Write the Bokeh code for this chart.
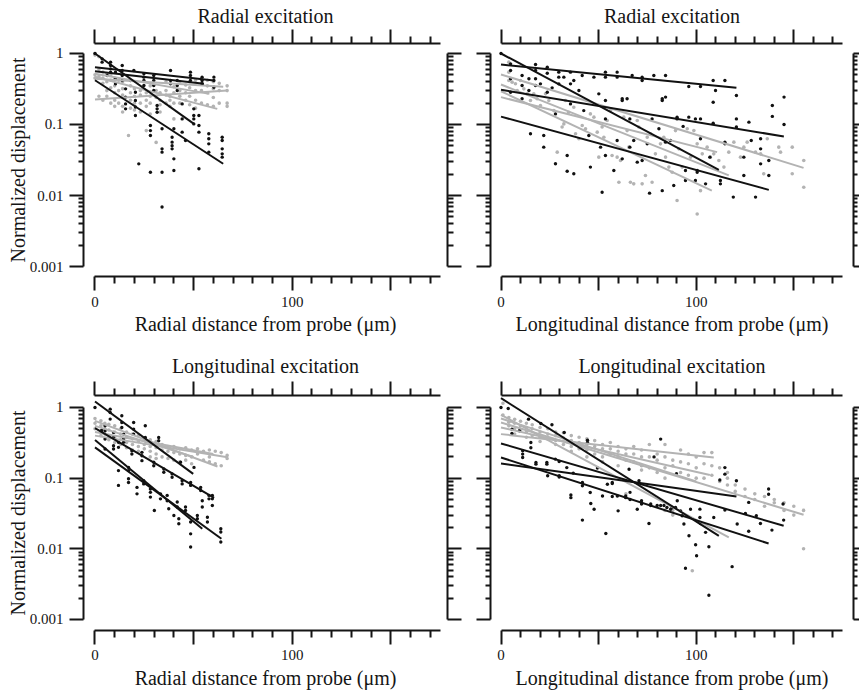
from bokeh.plotting import figure
from bokeh.models import LinearAxis, LogAxis, FixedTicker, Range1d, ColumnDataSource
from bokeh.layouts import column, row
from bokeh.embed import file_html
from bokeh.resources import INLINE

# ---------------- data ----------------
X_MAJOR = [0, 50, 100, 150]
X_MINOR = [10, 20, 30, 40, 60, 70, 80, 90, 110, 120, 130, 140, 160, 170]
X_LABELS = {0: "0", 50: "", 100: "100", 150: ""}
Y_MAJOR = [0.001, 0.01, 0.1, 1]
Y_MINOR = [0.002, 0.003, 0.004, 0.005, 0.006, 0.007, 0.008, 0.009,
           0.02, 0.03, 0.04, 0.05, 0.06, 0.07, 0.08, 0.09,
           0.2, 0.3, 0.4, 0.5, 0.6, 0.7, 0.8, 0.9]
Y_LABELS = {0.001: "0.001", 0.01: "0.01", 0.1: "0.1", 1: "1"}

TITLES = ["Radial excitation", "Radial excitation",
          "Longitudinal excitation", "Longitudinal excitation"]
XLABELS = ["Radial distance from probe (\u03bcm)", "Longitudinal distance from probe (\u03bcm)",
           "Radial distance from probe (\u03bcm)", "Longitudinal distance from probe (\u03bcm)"]
YLABEL = "Normalized displacement"

# top-left: radial excitation, radial distance
TL_BLACK = [(0, 1.0), (3.6, 0.755), (3.6, 0.84), (6.2, 0.49),
            (7.9, 0.755), (7.9, 0.677), (7.9, 0.608), (7.9, 0.546),
            (10.4, 0.546), (10.4, 0.44), (10.4, 0.374),
            (13.8, 0.677), (13.8, 0.576), (13.8, 0.49), (13.8, 0.417),
            (15.5, 0.318), (15.5, 0.243), (15.5, 0.195), (15.5, 0.166),
            (18, 0.417), (19.7, 0.576),
            (20.5, 0.285), (20.5, 0.218), (20.5, 0.176), (20.5, 0.134), (22.2, 0.0279),
            (24.8, 0.518), (24.8, 0.464), (24.8, 0.417), (24.8, 0.354),
            (28.1, 0.097), (28.1, 0.082), (28.1, 0.07), (28.1, 0.0213),
            (29.8, 0.49), (29.8, 0.417), (29.8, 0.354), (29.8, 0.301),
            (31.5, 0.185), (31.5, 0.166), (31.5, 0.149),
            (34, 0.087), (34, 0.0454), (34, 0.0408), (34, 0.0213), (34, 0.0069),
            (38.3, 0.576), (38.3, 0.417), (38.3, 0.374),
            (39.1, 0.066), (39.1, 0.0564), (39.1, 0.0504), (39.1, 0.0454),
            (40, 0.087), (40, 0.0328), (40, 0.0225),
            (41.7, 0.417), (41.7, 0.354), (41.7, 0.301),
            (44.2, 0.195), (44.2, 0.12), (44.2, 0.078), (45.9, 0.0596),
            (48.4, 0.546), (48.4, 0.49), (48.4, 0.417),
            (50.1, 0.166), (50.1, 0.134), (50.1, 0.12), (50.1, 0.102),
            (52.7, 0.134), (52.7, 0.097), (52.7, 0.078), (52.7, 0.0238),
            (54.3, 0.464), (54.3, 0.417), (54.3, 0.374),
            (57.7, 0.074), (57.7, 0.063), (57.7, 0.0534), (57.7, 0.0408),
            (60.3, 0.464), (60.3, 0.417), (60.3, 0.335),
            (64.5, 0.066), (64.5, 0.0596), (64.5, 0.0454), (64.5, 0.0386), (64.5, 0.0347)]
TL_GRAY = [(0, 1.0), (0, 0.95), (0, 0.5), (0, 0.45),
           (2, 0.9), (2, 0.6), (2, 0.48), (2, 0.25),
           (4, 0.55), (4, 0.45), (4, 0.38), (4, 0.22),
           (6, 0.52), (6, 0.4), (6, 0.3), (6, 0.25),
           (8, 0.5), (8, 0.42), (8, 0.33), (8, 0.2),
           (10, 0.45), (10, 0.35), (10, 0.28), (10, 0.22), (10, 0.18),
           (12, 0.42), (12, 0.3), (12, 0.2),
           (14, 0.4), (14, 0.32), (14, 0.26), (14, 0.18), (14, 0.15),
           (17, 0.07), (18, 0.35), (18, 0.28), (18, 0.22), (18, 0.17),
           (20, 0.32), (20, 0.25), (20, 0.2), (20, 0.16),
           (23, 0.3), (23, 0.26), (23, 0.2), (23, 0.15),
           (26, 0.082), (26, 0.28), (26, 0.22), (26, 0.18),
           (28, 0.35), (28, 0.25), (28, 0.2), (28, 0.14),
           (31, 0.056), (31, 0.3), (31, 0.24),
           (33, 0.28), (33, 0.22), (33, 0.19), (33, 0.15),
           (36, 0.4), (36, 0.3), (36, 0.26), (36, 0.2),
           (38, 0.25), (38, 0.22), (38, 0.18),
           (40, 0.34), (40, 0.28), (40, 0.2), (40, 0.12),
           (43, 0.4), (43, 0.3), (43, 0.25), (43, 0.2),
           (46, 0.36), (46, 0.28), (46, 0.22),
           (48, 0.4), (48, 0.33), (48, 0.25), (48, 0.19),
           (51, 0.42), (51, 0.3), (51, 0.22), (51, 0.17),
           (54, 0.38), (54, 0.3), (54, 0.2),
           (57, 0.42), (57, 0.35), (57, 0.28), (57, 0.19),
           (60, 0.4), (60, 0.32), (60, 0.24), (60, 0.18),
           (63, 0.38), (63, 0.3), (63, 0.2),
           (67, 0.35), (67, 0.3), (67, 0.2), (67, 0.18)]
TL_BLACK_FITS = [(0, 1.0, 50, 0.103), (0, 0.42, 65, 0.028),
                 (0, 0.642, 60.3, 0.417), (0, 0.563, 55.2, 0.374)]
TL_GRAY_FITS = [(0, 0.47, 62, 0.166), (0, 0.225, 67, 0.30),
                (0, 0.52, 58, 0.27), (0, 0.44, 65, 0.34)]

# top-right: radial excitation, longitudinal distance
TR_BLACK = [(0, 1.0), (4.9, 0.715), (4.9, 0.576), (4.9, 0.44), (4.9, 0.285),
            (10.8, 0.49), (10.8, 0.354), (10.8, 0.23), (14.3, 0.44), (14.3, 0.301),
            (15.1, 0.074), (17.7, 0.7), (17.7, 0.576), (17.7, 0.44), (17.7, 0.354),
            (20.2, 0.374), (21.9, 0.07), (21.9, 0.048),
            (23.7, 0.642), (23.7, 0.528), (23.7, 0.285), (26.2, 0.328),
            (27.9, 0.141), (27.9, 0.028), (29.6, 0.546), (29.6, 0.464), (29.6, 0.374),
            (32.2, 0.464), (33.9, 0.0366), (33.9, 0.022),
            (35.6, 0.546), (35.6, 0.374), (35.6, 0.195), (37.3, 0.417), (37.3, 0.0202),
            (39.9, 0.301), (42.4, 0.157), (41.6, 0.49), (45, 0.07), (45.8, 0.0251),
            (47.6, 0.464), (50.1, 0.27), (51, 0.048), (51.8, 0.0111),
            (53.5, 0.546), (53.5, 0.464), (53.5, 0.218), (53.5, 0.12), (53.5, 0.0366),
            (57.8, 0.0225), (59.5, 0.546), (59.5, 0.464), (59.5, 0.0596),
            (62.1, 0.23), (62.1, 0.218), (62.1, 0.0328), (64.6, 0.23),
            (66, 0.12), (66, 0.048), (67.2, 0.49), (68, 0.0596), (69.8, 0.0295),
            (72.3, 0.464), (72.3, 0.417), (72.3, 0.0311), (74.9, 0.0534), (76.1, 0.0108),
            (77.4, 0.12), (78.3, 0.49), (80.9, 0.087),
            (82.6, 0.0117), (82.6, 0.218), (82.6, 0.23), (84.3, 0.49), (84.3, 0.243),
            (84.3, 0.0564), (86.8, 0.0596), (88.5, 0.0138), (90.2, 0.127), (90.2, 0.12),
            (93.3, 0.094), (94.5, 0.0225), (94.5, 0.0163), (96.2, 0.343), (96.2, 0.127),
            (99.6, 0.12), (99.6, 0.0163), (100.5, 0.0225), (100.5, 0.0213),
            (102.2, 0.12), (102.2, 0.063), (102.2, 0.343), (104.8, 0.0146), (107, 0.0347),
            (108.7, 0.417), (108.7, 0.206), (108.7, 0.104), (109.9, 0.301),
            (112.4, 0.0163), (112.4, 0.0146), (114.7, 0.0564), (114.7, 0.0534),
            (114.7, 0.417), (119, 0.0095), (120.6, 0.12), (120.6, 0.092), (120.6, 0.256),
            (124.4, 0.0347), (124.4, 0.0191), (127, 0.108), (128.2, 0.0596),
            (130.4, 0.0095), (133, 0.063), (133, 0.0454), (133, 0.0279),
            (137.2, 0.0311), (137.2, 0.0191), (139, 0.185), (139, 0.13),
            (145, 0.243), (145, 0.1)]
TR_GRAY = [(4, 0.755), (4, 0.546), (4, 0.417), (5.7, 0.395), (7.4, 0.374), (8.3, 0.301),
           (10, 0.417), (11.7, 0.318), (13.4, 0.27), (15.1, 0.218), (16.8, 0.27),
           (18.5, 0.23), (20.2, 0.185), (22.8, 0.27), (24.5, 0.218), (27.1, 0.157),
           (28.8, 0.0408), (31.3, 0.092), (32.2, 0.102), (33, 0.218), (34.7, 0.149),
           (37.3, 0.175), (38.2, 0.074), (39.9, 0.063), (41.6, 0.097), (43.3, 0.087),
           (44.1, 0.218), (45.8, 0.141), (47.6, 0.127), (49.3, 0.078), (50.1, 0.0347),
           (51.8, 0.092), (52.7, 0.066), (54.4, 0.114), (56.1, 0.157), (56.9, 0.0366),
           (59.5, 0.0347), (60.4, 0.0154), (61.2, 0.0311), (62.9, 0.127), (64.6, 0.082),
           (65.5, 0.048), (66.3, 0.0154), (68, 0.0146), (69.8, 0.114), (70.6, 0.092),
           (72.3, 0.0146), (74, 0.0191), (74.9, 0.066), (76.6, 0.074), (77.4, 0.0154),
           (79.1, 0.0386), (81.7, 0.0534), (83.4, 0.066), (84.3, 0.0347), (86, 0.0251),
           (87.7, 0.0213), (89.4, 0.082), (91.1, 0.0454), (92.8, 0.0251), (95.4, 0.087),
           (97.1, 0.0347), (98.8, 0.082), (100.5, 0.0534), (102.2, 0.0117), (100.5, 0.0055),
           (103.1, 0.0386), (105.6, 0.048), (107.3, 0.0347), (109, 0.0386), (111.6, 0.0311),
           (114.2, 0.0251), (116.7, 0.0408), (119.3, 0.0564), (122.7, 0.0347),
           (124.4, 0.048), (126.1, 0.0564), (130.4, 0.0408), (133, 0.0386), (134.6, 0.0202),
           (136.4, 0.063), (142.3, 0.048), (143.2, 0.0408), (149.2, 0.0202), (149.2, 0.048),
           (155.1, 0.0311), (155.1, 0.0131), (90.2, 0.0085)]
TR_BLACK_FITS = [(0, 1.0, 111.6, 0.023), (0, 0.70, 120.6, 0.329),
                 (0, 0.308, 144.9, 0.0678), (0, 0.129, 137.2, 0.012)]
TR_GRAY_FITS = [(0, 0.506, 155, 0.0245), (0, 0.366, 116.7, 0.0192),
                (0, 0.294, 108, 0.0117), (0, 0.243, 110.7, 0.0408)]

# bottom-left: longitudinal excitation, radial distance
BL_BLACK = [(0, 1.0), (3.4, 0.479), (3.4, 0.444),
            (5.1, 0.551), (5.1, 0.469), (5.1, 0.358), (5.1, 0.259),
            (7.7, 0.947), (7.7, 0.85), (7.7, 0.685),
            (9.4, 0.444), (9.4, 0.377), (9.4, 0.288), (9.4, 0.259),
            (11.9, 0.321), (11.9, 0.273), (11.9, 0.128), (11.9, 0.079),
            (13.6, 0.763), (13.6, 0.614), (13.6, 0.522),
            (14.5, 0.42), (14.5, 0.358), (14.5, 0.321),
            (17, 0.142), (17, 0.128), (17, 0.098), (17, 0.087),
            (19.6, 0.614), (19.6, 0.495), (19.6, 0.42), (18.7, 0.245), (18.7, 0.22),
            (21.3, 0.074), (21.3, 0.06), (23.8, 0.232), (23.8, 0.208), (23.8, 0.177),
            (24.7, 0.092), (24.7, 0.083), (25.5, 0.551), (25.5, 0.377), (25.5, 0.338),
            (28.1, 0.07), (28.1, 0.063), (28.1, 0.054), (29.8, 0.168), (29.8, 0.15),
            (30.1, 0.0348), (32.3, 0.377), (32.3, 0.338), (33.2, 0.06), (33.2, 0.051),
            (34.9, 0.135), (34.9, 0.121), (36.6, 0.057), (36.6, 0.048), (37.4, 0.037),
            (39.1, 0.115), (39.1, 0.103), (40, 0.0296), (41.7, 0.046), (41.7, 0.039),
            (42.5, 0.0266), (42.5, 0.0226), (43.4, 0.168), (44.2, 0.092), (44.2, 0.083),
            (45.9, 0.039), (45.9, 0.0348), (48.5, 0.024), (48.5, 0.0163), (48.5, 0.0106),
            (48.5, 0.087), (48.5, 0.079), (50.2, 0.142), (51.9, 0.0296), (51.9, 0.0266),
            (53.6, 0.074), (53.6, 0.067), (54.4, 0.048), (54.4, 0.039),
            (57, 0.028), (57, 0.024), (57.8, 0.051), (57.8, 0.057),
            (59.5, 0.057), (59.5, 0.051), (59.5, 0.041),
            (63.8, 0.0192), (63.8, 0.0173), (63.8, 0.0125)]
BL_GRAY = [(0, 0.7), (0, 0.6), (0, 0.5), (3, 0.65), (3, 0.55), (3, 0.45), (3, 0.4),
           (5, 0.6), (5, 0.5), (5, 0.42), (7, 0.58), (7, 0.48), (7, 0.4), (7, 0.35),
           (10, 0.55), (10, 0.45), (10, 0.38), (10, 0.32), (13, 0.5), (13, 0.42), (13, 0.35), (13, 0.3),
           (16, 0.45), (16, 0.38), (16, 0.32), (16, 0.27), (19, 0.42), (19, 0.36), (19, 0.3), (19, 0.25),
           (22, 0.4), (22, 0.33), (22, 0.28), (22, 0.24), (25, 0.36), (25, 0.3), (25, 0.26),
           (28, 0.35), (28, 0.28), (28, 0.24), (28, 0.2), (31, 0.33), (31, 0.27), (31, 0.22), (31, 0.19),
           (34, 0.3), (34, 0.25), (34, 0.2), (37, 0.28), (37, 0.24), (37, 0.19),
           (40, 0.28), (40, 0.23), (40, 0.18), (43, 0.26), (43, 0.22), (43, 0.17),
           (46, 0.27), (46, 0.21), (46, 0.18), (49, 0.25), (49, 0.2), (49, 0.16),
           (52, 0.26), (52, 0.22), (55, 0.24), (55, 0.18), (58, 0.25), (58, 0.2), (58, 0.17),
           (61, 0.24), (61, 0.16), (64, 0.23), (64, 0.15), (67, 0.21), (67, 0.19)]
BL_BLACK_FITS = [(0, 1.215, 49.8, 0.115), (0, 0.511, 60.4, 0.0526),
                 (0, 0.346, 54.4, 0.0192), (0, 0.273, 64.1, 0.0139)]
BL_GRAY_FITS = [(0, 0.648, 62.1, 0.146), (0, 0.40, 67.2, 0.197),
                (0, 0.55, 50, 0.2), (0, 0.45, 60, 0.22)]

# bottom-right: longitudinal excitation, longitudinal distance
BR_BLACK = [(0, 1.0), (3.7, 0.968), (5.6, 0.494), (5.6, 0.428), (9.4, 0.468),
            (11.1, 0.244), (11.1, 0.219), (11.1, 0.196), (14.1, 0.684), (15.3, 0.32), (15.3, 0.27),
            (17.9, 0.167), (17.9, 0.158), (20.4, 0.594), (23.5, 0.167), (23.5, 0.158), (23.9, 0.108),
            (26.1, 0.569), (27.8, 0.186), (29.8, 0.108), (29.8, 0.104), (32.4, 0.443), (29.8, 0.172),
            (33.7, 0.141), (35.8, 0.058), (35.8, 0.053), (37, 0.118), (41.7, 0.087), (41.7, 0.078),
            (41.7, 0.0255), (44.3, 0.345), (44.3, 0.32), (45.7, 0.0627), (46, 0.0438), (47.7, 0.0364),
            (49.4, 0.139), (52, 0.056), (53.7, 0.0165), (54.5, 0.082), (57, 0.087), (57, 0.084),
            (57, 0.055), (59.6, 0.056), (60, 0.0345), (63.9, 0.053), (63.9, 0.056), (65.6, 0.134),
            (66.1, 0.063), (66.1, 0.05), (69.8, 0.0364), (70.7, 0.092), (72, 0.048), (72, 0.043),
            (75.8, 0.0228), (76.7, 0.043), (76.7, 0.041), (78.4, 0.2), (80, 0.041), (81.8, 0.357),
            (81.8, 0.041), (83.5, 0.041), (85, 0.0385), (86.9, 0.0364), (87.7, 0.0385),
            (89.4, 0.0385), (90.3, 0.048), (89.9, 0.116), (92, 0.0345), (92.8, 0.0294),
            (93.7, 0.0225), (94.5, 0.0053), (96.3, 0.0153), (97.1, 0.0364), (99.7, 0.0114),
            (100.2, 0.008), (101.9, 0.0364), (101.9, 0.0277), (102.2, 0.0228), (104.8, 0.0171),
            (106.5, 0.0107), (106.5, 0.0022), (109, 0.0277), (112.1, 0.094), (114.7, 0.141),
            (114.7, 0.114), (114.7, 0.0354), (118.4, 0.0056), (120.6, 0.092), (121, 0.0225),
            (125.2, 0.0316), (126.9, 0.0177), (126.9, 0.0454), (130.8, 0.0294), (132.9, 0.0228),
            (137.1, 0.0701), (137.1, 0.0593), (138.8, 0.0184), (144.8, 0.0255), (144.5, 0.043)]
BR_GRAY = [(1, 1.15), (1, 0.78), (4, 0.72), (4, 0.62), (4, 0.55),
           (7, 0.68), (7, 0.6), (7, 0.5), (7, 0.42), (10, 0.64), (10, 0.55), (10, 0.47),
           (13, 0.6), (13, 0.52), (13, 0.45), (13, 0.38), (16, 0.57), (16, 0.5), (16, 0.4),
           (20, 0.52), (20, 0.45), (20, 0.38), (20, 0.33), (24, 0.5), (24, 0.42), (24, 0.36),
           (28, 0.45), (28, 0.4), (28, 0.34), (28, 0.3), (32, 0.44), (32, 0.37), (32, 0.3),
           (36, 0.4), (36, 0.34), (36, 0.28), (36, 0.24), (40, 0.38), (40, 0.32), (40, 0.26),
           (44, 0.36), (44, 0.3), (44, 0.25), (44, 0.2), (48, 0.34), (48, 0.28), (48, 0.22),
           (52, 0.3), (52, 0.26), (52, 0.2), (52, 0.17), (56, 0.32), (56, 0.26), (56, 0.22),
           (60, 0.28), (60, 0.24), (60, 0.2), (60, 0.15), (64, 0.26), (64, 0.22), (64, 0.18), (64, 0.06),
           (68, 0.28), (68, 0.22), (68, 0.17), (72, 0.25), (72, 0.2), (72, 0.15), (72, 0.13),
           (76, 0.3), (76, 0.2), (76, 0.14), (80, 0.22), (80, 0.18), (80, 0.12),
           (84, 0.3), (84, 0.2), (84, 0.14), (84, 0.1), (84, 0.035), (88, 0.18), (88, 0.15),
           (88, 0.035), (88, 0.03), (92, 0.25), (92, 0.17), (92, 0.12),
           (96, 0.22), (96, 0.16), (96, 0.11), (98, 0.0049), (100, 0.2), (100, 0.14), (100, 0.1),
           (104, 0.23), (104, 0.16), (104, 0.1), (108, 0.23), (108, 0.15), (108, 0.11),
           (112, 0.14), (112, 0.09), (116, 0.12), (116, 0.1), (116, 0.08), (120, 0.08), (120, 0.065),
           (125, 0.07), (125, 0.055), (130, 0.06), (130, 0.05), (135, 0.055), (135, 0.04),
           (140, 0.05), (140, 0.045), (145, 0.045), (145, 0.035), (150, 0.04), (150, 0.03),
           (155, 0.035), (155, 0.01)]
BR_BLACK_FITS = [(0, 1.355, 111.6, 0.0153), (0, 0.31, 144.8, 0.0212),
                 (0, 0.196, 137.1, 0.0119), (0, 0.161, 120.6, 0.055)]
BR_GRAY_FITS = [(0, 0.787, 116.7, 0.0145), (0, 0.613, 155, 0.0303),
                (0, 0.521, 107, 0.111), (0, 0.42, 109, 0.196), (0, 0.70, 100, 0.09)]

# ---------------- styling ----------------
FONT = "'Liberation Serif', 'Times New Roman', serif"
INK = "#151515"
BLACK = "#111111"
GRAY = "#b3b3b3"


def style_axis(ax, ticks, minor, labels, tout, mout, bounds):
    ax.ticker = FixedTicker(ticks=ticks, minor_ticks=minor)
    ax.bounds = bounds
    ax.axis_line_width = 2
    ax.axis_line_color = INK
    ax.major_tick_line_width = 2
    ax.major_tick_line_color = INK
    ax.minor_tick_line_width = 2
    ax.minor_tick_line_color = INK
    ax.major_tick_in = 0
    ax.major_tick_out = tout
    ax.minor_tick_in = 0
    ax.minor_tick_out = mout
    if labels is None:
        ax.major_label_overrides = {t: "" for t in ticks}
        ax.major_label_standoff = 0
    else:
        ax.major_label_overrides = labels
    ax.major_label_text_font = FONT
    ax.major_label_text_font_size = "15px"
    ax.major_label_text_color = INK
    ax.axis_label_text_font = FONT
    ax.axis_label_text_font_size = "20px"
    ax.axis_label_text_font_style = "normal"
    ax.axis_label_text_color = INK


def split(pts):
    return [p[0] for p in pts], [p[1] for p in pts]


def fits_source(fits):
    return ColumnDataSource(dict(x0=[f[0] for f in fits], y0=[f[1] for f in fits],
                                 x1=[f[2] for f in fits], y1=[f[3] for f in fits]))


def panel(idx, black, gray, bfits, gfits):
    left_col = idx in (0, 2)
    top_row = idx in (0, 1)
    if left_col:
        width, mbl, mbr = 467, 83, 20
        xr = Range1d(-5.83, 178.75)
    else:
        width, mbl, mbr = 392, 23, 6
        xr = Range1d(-5.38, 180.58)
    if top_row:
        height, mbt, mbb = 341, 43, 65
        yr = Range1d(10 ** -3.1408, 10 ** 0.1408)
    else:
        height, mbt, mbb = 351, 54, 62
        yr = Range1d(10 ** -3.1557, 10 ** 0.1698)
    p = figure(width=width, height=height, x_range=xr, y_range=yr, y_axis_type="log",
               output_backend="svg", toolbar_location=None,
               min_border_left=mbl, min_border_right=mbr,
               min_border_top=mbt, min_border_bottom=mbb,
               background_fill_color="white", border_fill_color="white",
               outline_line_color=None)
    p.grid.visible = False

    below = p.xaxis[0]
    left = p.yaxis[0]
    above = LinearAxis()
    right = LogAxis()
    p.add_layout(above, "above")
    p.add_layout(right, "right")

    style_axis(below, X_MAJOR, X_MINOR, X_LABELS, 14, 7, (0, 175))
    style_axis(above, X_MAJOR, X_MINOR, None, 14, 7, (0, 175))
    style_axis(left, Y_MAJOR, Y_MINOR, Y_LABELS if left_col else None, 14, 5, (0.001, 1))
    if left_col:
        style_axis(right, Y_MAJOR, Y_MINOR, None, 14, 6, (0.001, 1))
    else:
        style_axis(right, Y_MAJOR, Y_MINOR, None, 6, 4, (0.001, 1))

    left.major_label_standoff = 6
    below.major_label_standoff = 6 if top_row else 5
    below.axis_label = XLABELS[idx]
    below.axis_label_standoff = 3 if top_row else 4
    above.axis_label = TITLES[idx]
    above.axis_label_standoff = 3 if top_row else 5
    if left_col:
        left.axis_label = YLABEL
        left.axis_label_standoff = -2

    gx, gy = split(gray)
    bx, by = split(black)
    p.scatter(gx, gy, size=3.6, marker="circle", fill_color=GRAY, line_color=None)
    p.scatter(bx, by, size=3.4, marker="circle", fill_color=BLACK, line_color=None)
    p.segment(x0="x0", y0="y0", x1="x1", y1="y1", source=fits_source(gfits),
              line_color=GRAY, line_width=2)
    p.segment(x0="x0", y0="y0", x1="x1", y1="y1", source=fits_source(bfits),
              line_color=BLACK, line_width=2)
    return p


p1 = panel(0, TL_BLACK, TL_GRAY, TL_BLACK_FITS, TL_GRAY_FITS)
p2 = panel(1, TR_BLACK, TR_GRAY, TR_BLACK_FITS, TR_GRAY_FITS)
p3 = panel(2, BL_BLACK, BL_GRAY, BL_BLACK_FITS, BL_GRAY_FITS)
p4 = panel(3, BR_BLACK, BR_GRAY, BR_BLACK_FITS, BR_GRAY_FITS)

layout = column(row(p1, p2), row(p3, p4))
open("out.html", "w").write(file_html(layout, INLINE))
